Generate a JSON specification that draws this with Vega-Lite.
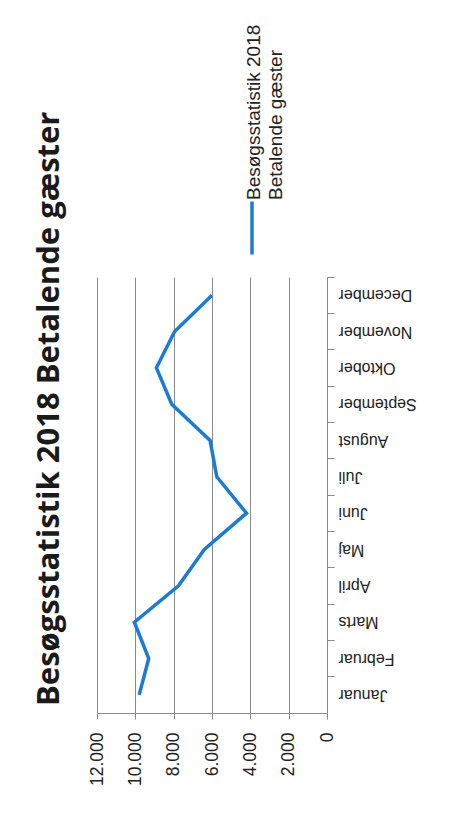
{
  "$schema": "https://vega.github.io/schema/vega-lite/v6.json",
  "autosize": {"type": "none"},
  "width": 230,
  "height": 436,
  "padding": {"left": 97, "top": 277, "right": 123, "bottom": 100},
  "background": "white",
  "title": {
    "text": "Besøgsstatistik 2018 Betalende gæster",
    "orient": "left",
    "anchor": "start",
    "frame": "group",
    "font": "Open Sans",
    "fontSize": 31,
    "fontWeight": "bold",
    "color": "#1a1a1a",
    "offset": 22,
    "dx": 7
  },
  "data": {
    "values": [
      {"m": 1, "month": "Januar", "value": 9800, "series": "Besøgsstatistik 2018 Betalende gæster"},
      {"m": 2, "month": "Februar", "value": 9300, "series": "Besøgsstatistik 2018 Betalende gæster"},
      {"m": 3, "month": "Marts", "value": 10050, "series": "Besøgsstatistik 2018 Betalende gæster"},
      {"m": 4, "month": "April", "value": 7750, "series": "Besøgsstatistik 2018 Betalende gæster"},
      {"m": 5, "month": "Maj", "value": 6400, "series": "Besøgsstatistik 2018 Betalende gæster"},
      {"m": 6, "month": "Juni", "value": 4200, "series": "Besøgsstatistik 2018 Betalende gæster"},
      {"m": 7, "month": "Juli", "value": 5750, "series": "Besøgsstatistik 2018 Betalende gæster"},
      {"m": 8, "month": "August", "value": 6100, "series": "Besøgsstatistik 2018 Betalende gæster"},
      {"m": 9, "month": "September", "value": 8100, "series": "Besøgsstatistik 2018 Betalende gæster"},
      {"m": 10, "month": "Oktober", "value": 8900, "series": "Besøgsstatistik 2018 Betalende gæster"},
      {"m": 11, "month": "November", "value": 7950, "series": "Besøgsstatistik 2018 Betalende gæster"},
      {"m": 12, "month": "December", "value": 6000, "series": "Besøgsstatistik 2018 Betalende gæster"}
    ]
  },
  "resolve": {"axis": {"y": "independent"}},
  "layer": [
    {
      "mark": {"type": "line", "strokeWidth": 3.5},
      "encoding": {
        "y": {
          "field": "month",
          "type": "nominal",
          "sort": ["December", "November", "Oktober", "September", "August", "Juli", "Juni", "Maj", "April", "Marts", "Februar", "Januar"],
          "scale": {"type": "band", "paddingInner": 0, "paddingOuter": 0},
          "axis": {
            "orient": "right",
            "title": null,
            "ticks": false,
            "grid": false,
            "domain": true,
            "domainColor": "#8a8a8a",
            "domainWidth": 1,
            "labelAngle": 180,
            "labelAlign": "right",
            "labelBaseline": "middle",
            "labelPadding": 11,
            "labelFont": "Liberation Sans",
            "labelFontSize": 16,
            "labelColor": "#222222",
            "labelOverlap": false,
            "labelLimit": 0
          }
        },
        "x": {
          "field": "value",
          "type": "quantitative",
          "scale": {"domain": [0, 12000], "reverse": true, "nice": false},
          "axis": {
            "title": null,
            "values": [0, 2000, 4000, 6000, 8000, 10000, 12000],
            "grid": true,
            "gridColor": "#8a8a8a",
            "gridWidth": 1,
            "domain": true,
            "domainColor": "#8a8a8a",
            "domainWidth": 1,
            "ticks": true,
            "tickColor": "#8a8a8a",
            "tickSize": 6,
            "labelAngle": -90,
            "labelAlign": "right",
            "labelBaseline": "middle",
            "labelPadding": 13,
            "labelFont": "Liberation Sans",
            "labelFontSize": 17.5,
            "labelColor": "#222222",
            "labelOverlap": false,
            "labelExpr": "replace(format(datum.value, ','), ',', '.')"
          }
        },
        "order": {"field": "m", "type": "quantitative"},
        "color": {
          "field": "series",
          "type": "nominal",
          "scale": {"range": ["#1d7bd3"]},
          "legend": {
            "orient": "none",
            "legendX": 155,
            "legendY": -49,
            "padding": 0,
            "offset": 0,
            "title": null,
            "symbolType": "stroke",
            "symbolSize": 2809,
            "symbolStrokeWidth": 3.5,
            "labelExpr": "['Besøgsstatistik 2018', 'Betalende gæster']",
            "labelFont": "Liberation Sans",
            "labelFontSize": 19,
            "labelColor": "#222222",
            "labelLimit": 0,
            "encoding": {
              "symbols": {"angle": {"value": 90}, "x": {"value": 0}, "y": {"value": 0}},
              "labels": {"angle": {"value": -90}, "align": {"value": "left"}, "baseline": {"value": "top"}, "x": {"value": -7}, "y": {"value": -28}, "lineHeight": {"value": 22}}
            }
          }
        }
      }
    },
    {
      "mark": {"type": "point", "opacity": 0},
      "encoding": {
        "y": {
          "field": "month",
          "type": "nominal",
          "sort": ["December", "November", "Oktober", "September", "August", "Juli", "Juni", "Maj", "April", "Marts", "Februar", "Januar"],
          "scale": {"type": "band", "paddingInner": 0, "paddingOuter": 0},
          "axis": {
            "orient": "right",
            "title": null,
            "labels": false,
            "domain": false,
            "grid": false,
            "ticks": true,
            "tickSize": 7,
            "tickColor": "#8a8a8a",
            "bandPosition": 0
          }
        },
        "x": {
          "field": "value",
          "type": "quantitative",
          "scale": {"domain": [0, 12000], "reverse": true, "nice": false},
          "axis": {
            "title": null,
            "values": [0, 2000, 4000, 6000, 8000, 10000, 12000],
            "grid": true,
            "gridColor": "#8a8a8a",
            "gridWidth": 1,
            "domain": true,
            "domainColor": "#8a8a8a",
            "domainWidth": 1,
            "ticks": true,
            "tickColor": "#8a8a8a",
            "tickSize": 6,
            "labelAngle": -90,
            "labelAlign": "right",
            "labelBaseline": "middle",
            "labelPadding": 13,
            "labelFont": "Liberation Sans",
            "labelFontSize": 17.5,
            "labelColor": "#222222",
            "labelOverlap": false,
            "labelExpr": "replace(format(datum.value, ','), ',', '.')"
          }
        }
      }
    }
  ],
  "config": {"view": {"stroke": null}}
}
